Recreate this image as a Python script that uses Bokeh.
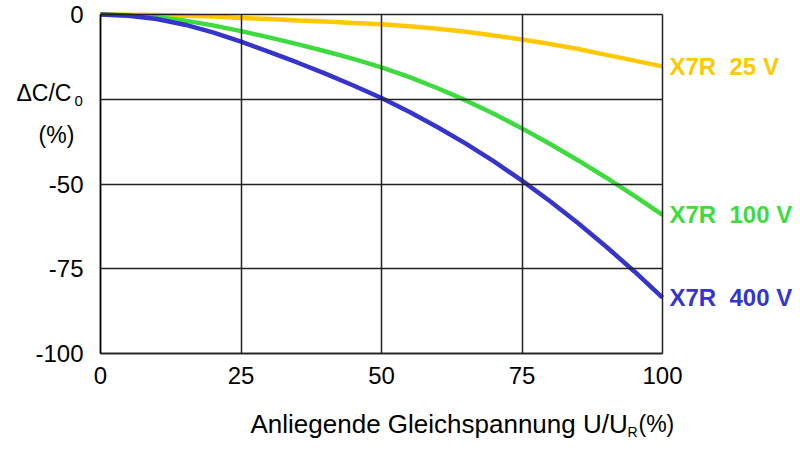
from bokeh.plotting import figure
from bokeh.models import FixedTicker, Label, LinearAxis, Range1d
from bokeh.embed import file_html
from bokeh.resources import INLINE

# Data
u_pct = [0, 5, 10, 15, 20, 25, 30, 35, 40, 45, 50, 55, 60, 65, 70, 75, 80, 85, 90, 95, 100]
x7r_25v = [0, -0.05, -0.15, -0.35, -0.6, -1.0, -1.35, -1.75, -2.1, -2.5, -2.9,
           -3.5, -4.2, -5.1, -6.2, -7.4, -8.7, -10.2, -11.9, -13.6, -15.3]
x7r_100v = [0, -0.2, -0.8, -1.8, -3.2, -4.9, -6.75, -8.75, -10.85, -13.1, -15.6,
            -18.5, -21.75, -25.35, -29.3, -33.6, -38.2, -43.05, -48.15, -53.5, -59.1]
x7r_400v = [0, -0.35, -1.35, -3.0, -5.25, -8.0, -11.0, -14.15, -17.45, -20.95, -24.65,
            -28.75, -33.25, -38.1, -43.35, -49.0, -55.1, -61.6, -68.5, -75.8, -83.5]
series_names = ["X7R\u00a0 25 V", "X7R\u00a0 100 V", "X7R\u00a0 400 V"]
series_colors = ["#FFC800", "#3EDB3E", "#3535CC"]
x_ticks = [0, 25, 50, 75, 100]
x_tick_labels = ["0", "25", "50", "75", "100"]
y_ticks = [0, -25, -50, -75, -100]
y_tick_labels = ["0", "", "-50", "-75", "-100"]

FONT = "Liberation Sans"

# layout (pixels): chart box inside the canvas
W, H = 800, 450
BOX_L, BOX_R, BOX_T, BOX_B = 100, 662, 14, 353
XMIN, XMAX, YMIN, YMAX = 0, 100, -100, 0
xs = (XMAX - XMIN) / (BOX_R - BOX_L)
ys = (YMAX - YMIN) / (BOX_B - BOX_T)

def dx(px):
    return XMIN + (px - BOX_L) * xs

def dy(py):
    return YMAX - (py - BOX_T) * ys

p = figure(width=W, height=H,
           x_range=Range1d(dx(0), dx(W)), y_range=Range1d(dy(H), dy(0)),
           output_backend="svg", toolbar_location=None,
           x_axis_location=None, y_axis_location=None,
           min_border_left=0, min_border_right=0,
           min_border_top=0, min_border_bottom=0)
p.background_fill_color = "white"
p.border_fill_color = "white"
p.outline_line_color = None
p.xgrid.visible = False
p.ygrid.visible = False

# Axes pinned to the chart box; their inward ticks form the grid and the box
xaxis = LinearAxis(fixed_location=YMIN, bounds=(XMIN, XMAX),
                   ticker=FixedTicker(ticks=x_ticks),
                   major_label_overrides={t: s for t, s in zip(x_ticks, x_tick_labels)})
yaxis = LinearAxis(fixed_location=XMIN, bounds=(YMIN, YMAX),
                   ticker=FixedTicker(ticks=y_ticks),
                   major_label_overrides={t: s for t, s in zip(y_ticks, y_tick_labels)})
for ax in (xaxis, yaxis):
    ax.axis_line_color = "black"
    ax.axis_line_width = 1.5
    ax.major_tick_line_color = "#222222"
    ax.major_tick_line_width = 1.5
    ax.major_tick_out = 0
    ax.minor_tick_line_color = None
    ax.minor_tick_in = 0
    ax.minor_tick_out = 0
    ax.major_label_text_font = FONT
    ax.major_label_text_font_size = "24px"
    ax.major_label_text_color = "black"
xaxis.major_tick_in = BOX_B - BOX_T
yaxis.major_tick_in = BOX_R - BOX_L
xaxis.major_label_standoff = 13
yaxis.major_label_standoff = 17
p.add_layout(xaxis, "below")
p.add_layout(yaxis, "left")

def add_label(**kw):
    kw.setdefault("text_font", FONT)
    kw.setdefault("text_color", "black")
    kw.setdefault("text_baseline", "middle")
    p.add_layout(Label(**kw))

all_series = [x7r_25v, x7r_100v, x7r_400v]
for vals, name, col in zip(all_series, series_names, series_colors):
    p.line(u_pct, vals, line_color=col, line_width=4.5)
    add_label(x=u_pct[-1], y=vals[-1], x_offset=7, text=name,
              text_color=col, text_font_size="24px",
              text_font_style="bold", text_align="left")

# y axis caption
add_label(x=dx(16), y=dy(92), text="ΔC/C", text_font_size="23px", text_align="left")
add_label(x=dx(74), y=dy(100), text="0", text_font_size="15px", text_align="left")
add_label(x=dx(56), y=dy(134), text="(%)", text_font_size="23px", text_align="center")

# x axis caption
add_label(x=dx(250), y=dy(423), text="Anliegende Gleichspannung U/U",
          text_font_size="26px", text_align="left")
add_label(x=dx(627), y=dy(431), text="R", text_font_size="14px", text_align="left")
add_label(x=dx(638), y=dy(423), text="(%)", text_font_size="23px", text_align="left")

open("out.html", "w").write(file_html(p, INLINE))
